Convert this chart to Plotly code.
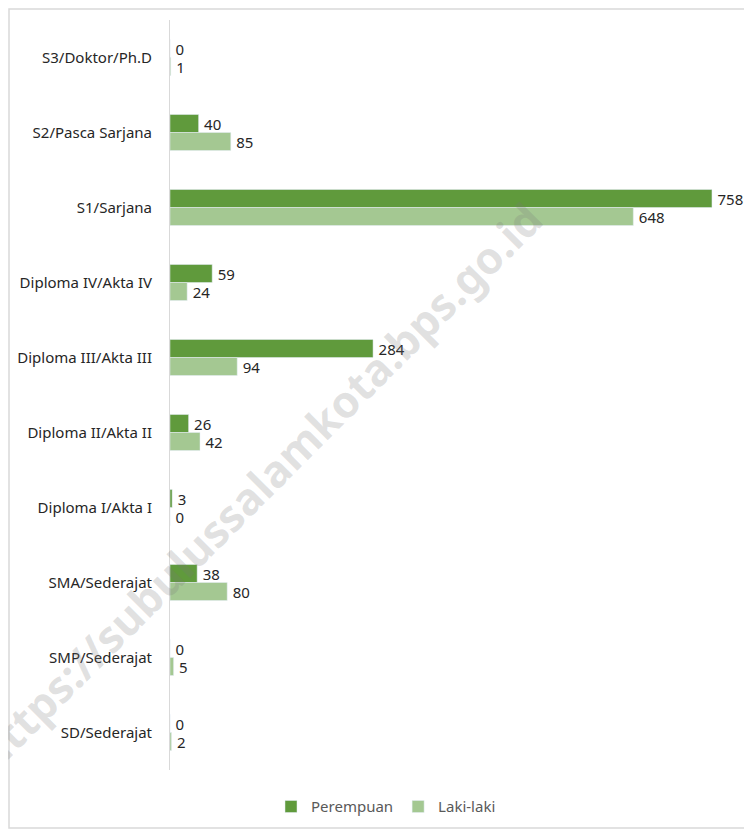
import plotly.graph_objects as go

categories = [
    "S3/Doktor/Ph.D",
    "S2/Pasca Sarjana",
    "S1/Sarjana",
    "Diploma IV/Akta IV",
    "Diploma III/Akta III",
    "Diploma II/Akta II",
    "Diploma I/Akta I",
    "SMA/Sederajat",
    "SMP/Sederajat",
    "SD/Sederajat",
]
perempuan = [0, 40, 758, 59, 284, 26, 3, 38, 0, 0]
laki_laki = [1, 85, 648, 24, 94, 42, 0, 80, 5, 2]

font_family = "Noto Sans"
text_color = "#262626"

# plot area in figure pixels
L, T, W, H = 162, 12, 572, 750

fig = go.Figure()
fig.add_trace(go.Bar(
    y=categories, x=perempuan, orientation="h", name="Perempuan",
    marker=dict(color="#609a3c"),
    text=perempuan, texttemplate="\u2009%{text}", textposition="outside",
    cliponaxis=False, constraintext="none",
    textfont=dict(family=font_family, size=15, color=text_color),
))
fig.add_trace(go.Bar(
    y=categories, x=laki_laki, orientation="h", name="Laki-laki",
    marker=dict(color="#a4c892"),
    text=laki_laki, texttemplate="\u2009%{text}", textposition="outside",
    cliponaxis=False, constraintext="none",
    textfont=dict(family=font_family, size=15, color=text_color),
))

# watermark
fig.add_annotation(
    text="https://subulussalamkota.bps.go.id",
    xref="paper", yref="paper", x=(250 - L) / W, y=(T + H - 478) / H,
    xanchor="center", yanchor="middle",
    showarrow=False, textangle=-45,
    font=dict(family="Noto Sans", size=44, color="rgba(120,120,120,0.22)", weight="bold"),
)

# chart border
fig.add_shape(type="rect", xref="paper", yref="paper",
              x0=(1 - L) / W, x1=(760 - L) / W, y0=(T + H - 820) / H, y1=(T + H - 1) / H,
              line=dict(color="#d9d9d9", width=1.5))

fig.update_layout(
    width=752, height=830,
    margin=dict(l=L, r=752 - L - W, t=T, b=830 - T - H),
    barmode="group", bargap=0.52, bargroupgap=0,
    plot_bgcolor="white", paper_bgcolor="white",
    font=dict(family=font_family, size=15, color="#404040"),
    showlegend=True,
    legend=dict(orientation="h", x=(378 - L) / W, xanchor="center",
                y=-0.027, yanchor="top", bgcolor="rgba(0,0,0,0)",
                font=dict(family=font_family, size=15, color="#595959")),
    xaxis=dict(range=[0, 800], showgrid=False, zeroline=False,
               showticklabels=False, showline=False),
    yaxis=dict(autorange="reversed", showline=True, linecolor="#d9d9d9",
               linewidth=1, ticks="", ticklabelstandoff=14, automargin=False,
               tickfont=dict(family=font_family, size=15, color=text_color)),
)

fig.write_html("out.html")
